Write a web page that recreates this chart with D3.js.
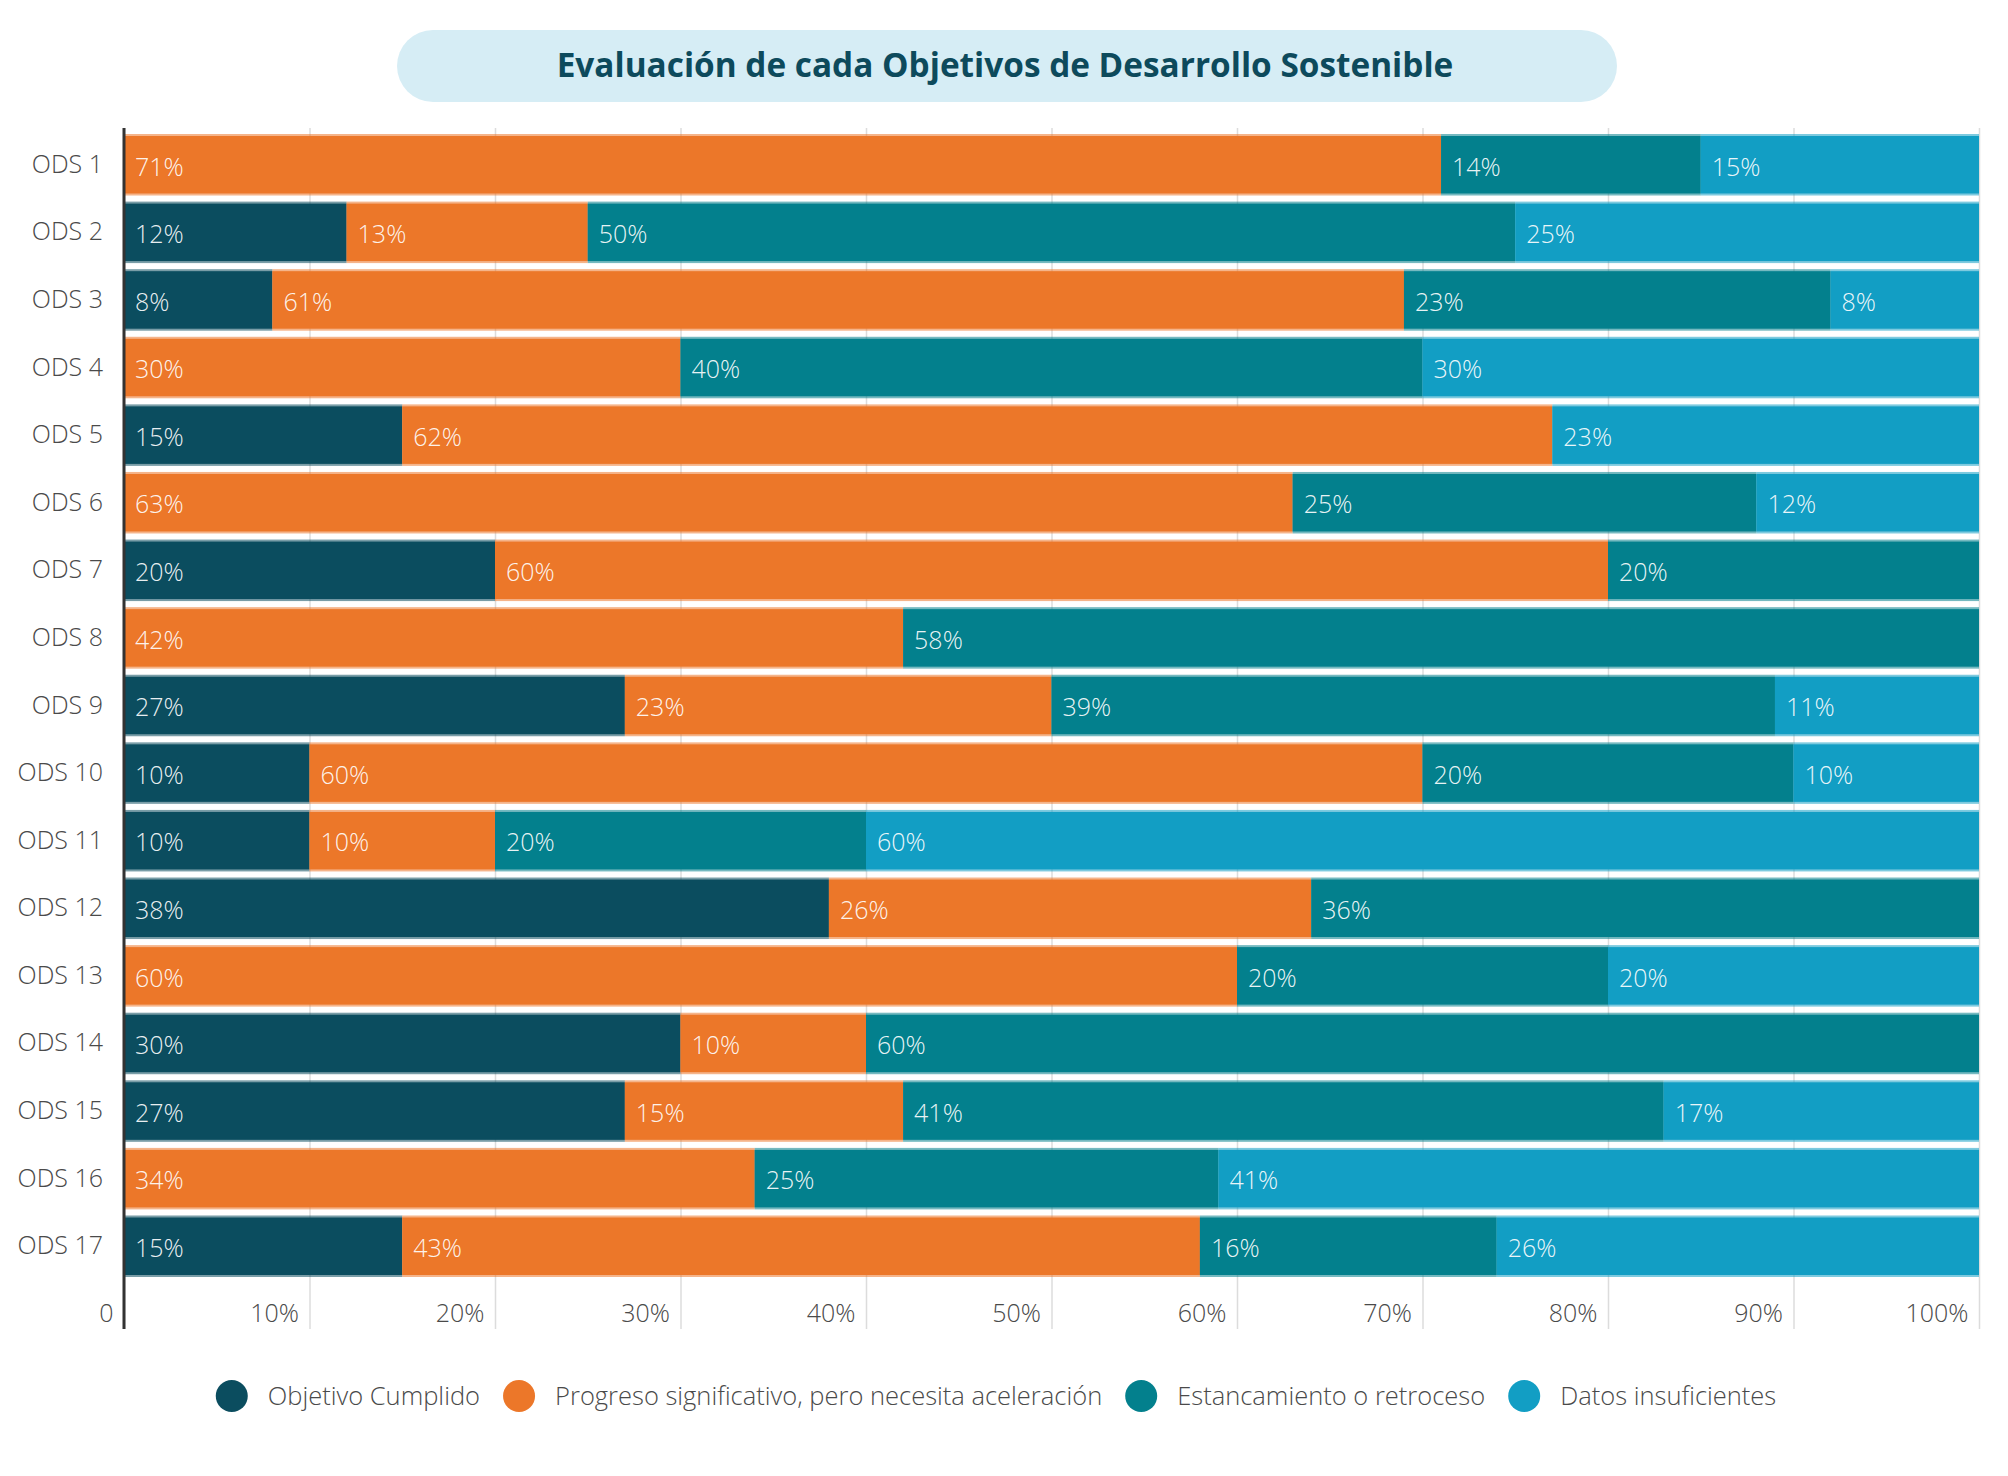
<!DOCTYPE html>
<html>
<head>
<meta charset="utf-8">
<script src="https://cdn.jsdelivr.net/npm/d3@7"></script>
<style>
  body { margin: 0; background: #fff; }
  svg { font-family: "Open Sans", sans-serif; }
</style>
</head>
<body>
<svg id="chart" width="2008" height="1476"></svg>
<script>
// datos
const categories = ["ODS 1","ODS 2","ODS 3","ODS 4","ODS 5","ODS 6","ODS 7","ODS 8","ODS 9",
  "ODS 10","ODS 11","ODS 12","ODS 13","ODS 14","ODS 15","ODS 16","ODS 17"];
const seriesNames = ["Objetivo Cumplido", "Progreso significativo, pero necesita aceleración",
  "Estancamiento o retroceso", "Datos insuficientes"];
const cumplido     = [0, 12, 8, 0, 15, 0, 20, 0, 27, 10, 10, 38, 0, 30, 27, 0, 15];
const progreso     = [71, 13, 61, 30, 62, 63, 60, 42, 23, 60, 10, 26, 60, 10, 15, 34, 43];
const estancamiento = [14, 50, 23, 40, 0, 25, 20, 58, 39, 20, 20, 36, 20, 60, 41, 25, 16];
const insuficientes = [15, 25, 8, 30, 23, 12, 0, 0, 11, 10, 60, 0, 20, 0, 17, 41, 26];
const xTicks = [0, 10, 20, 30, 40, 50, 60, 70, 80, 90, 100];
const colors = ["#0b4d5f", "#ec7729", "#03808d", "#129ec4"];
const title = "Evaluación de cada Objetivos de Desarrollo Sostenible";

const svg = d3.select("#chart");

// tabla para d3.stack
const table = categories.map((c, i) => ({
  cat: c, s0: cumplido[i], s1: progreso[i], s2: estancamiento[i], s3: insuficientes[i]
}));
const stack = d3.stack().keys(["s0", "s1", "s2", "s3"])(table);

const x = d3.scaleLinear().domain([0, 100]).range([124, 1979]);
const y = d3.scaleBand().domain(categories).range([134, 1277]).paddingInner(0.09);
const gridTop = 128, gridBottom = 1329;

// título
svg.append("rect")
  .attr("x", 397).attr("y", 30).attr("width", 1220).attr("height", 72)
  .attr("rx", 36).attr("fill", "#d6edf5");
const t = svg.append("text")
  .attr("x", 1005).attr("y", 77)
  .attr("text-anchor", "middle")
  .attr("fill", "#0d4a5c")
  .attr("font-weight", 700)
  .attr("font-size", 32)
  .text(title);
const tw = t.node().getComputedTextLength();
t.attr("font-size", 32 * 897 / tw);

// eje x con líneas de cuadrícula
const xAxis = svg.append("g")
  .attr("transform", `translate(0, ${gridBottom})`)
  .call(d3.axisBottom(x).tickValues(xTicks)
    .tickSize(-(gridBottom - gridTop))
    .tickFormat(d => d === 0 ? "0" : d + "%"));
xAxis.select(".domain").remove();
xAxis.selectAll(".tick line").attr("stroke", "#dcdcdc").attr("stroke-width", 1.5);
xAxis.selectAll(".tick text")
  .attr("x", -11).attr("y", -7).attr("dy", 0)
  .attr("text-anchor", "end")
  .attr("fill", "#4a4a4a")
  .attr("font-size", 25)
  .attr("font-weight", 300)
  .attr("font-family", "Open Sans, sans-serif");

// barras apiladas
const layer = svg.append("g").selectAll("g")
  .data(stack)
  .join("g");

layer.each(function (s, k) {
  const g = d3.select(this);
  const segs = s.filter(d => d[1] - d[0] > 0);
  // borde claro arriba y abajo
  g.selectAll(".edge").data(segs).join("rect")
    .attr("class", "edge")
    .attr("x", d => x(d[0]))
    .attr("y", d => y(d.data.cat))
    .attr("width", d => x(d[1]) - x(d[0]))
    .attr("height", y.bandwidth())
    .attr("fill", colors[k])
    .attr("opacity", 0.55);
  g.selectAll(".bar").data(segs).join("rect")
    .attr("class", "bar")
    .attr("x", d => x(d[0]))
    .attr("y", d => y(d.data.cat) + 2)
    .attr("width", d => x(d[1]) - x(d[0]))
    .attr("height", y.bandwidth() - 4)
    .attr("fill", colors[k]);
  g.selectAll(".val").data(segs).join("text")
    .attr("class", "val")
    .attr("x", d => x(d[0]) + 11)
    .attr("y", d => y(d.data.cat) + y.bandwidth() / 2 + 2)
    .attr("dy", "0.35em")
    .attr("fill", "#ffffff")
    .attr("fill-opacity", 0.92)
    .attr("font-size", 25)
    .attr("font-weight", 300)
    .text(d => (d[1] - d[0]) + "%");
});

// eje y
const yAxis = svg.append("g")
  .attr("transform", `translate(${x(0)}, 0)`)
  .call(d3.axisLeft(y).tickSize(0).tickPadding(21));
yAxis.select(".domain").remove();
yAxis.selectAll(".tick text")
  .attr("fill", "#4a4a4a")
  .attr("font-size", 25)
  .attr("font-weight", 300)
  .attr("font-family", "Open Sans, sans-serif");

svg.append("line")
  .attr("x1", x(0)).attr("x2", x(0))
  .attr("y1", gridTop).attr("y2", gridBottom)
  .attr("stroke", "#333").attr("stroke-width", 3);

// leyenda
const legend = svg.append("g");
const items = legend.selectAll("g").data(seriesNames).join("g");
items.append("circle").attr("r", 16).attr("cy", 0).attr("cx", 16)
  .attr("fill", (d, i) => colors[i]);
items.append("text")
  .attr("x", 52).attr("dy", "0.35em")
  .attr("fill", "#4a4a4a")
  .attr("font-size", 25.5)
  .attr("font-weight", 300)
  .text(d => d);
const widths = [];
items.each(function () {
  const w = 52 + d3.select(this).select("text").node().getComputedTextLength();
  widths.push(w);
});
const gap = 23;
const total = d3.sum(widths) + gap * (widths.length - 1);
let cx = 996 - total / 2;
items.attr("transform", (d, i) => {
  const tx = cx;
  cx += widths[i] + gap;
  return `translate(${tx}, 1396)`;
});
</script>
</body>
</html>
